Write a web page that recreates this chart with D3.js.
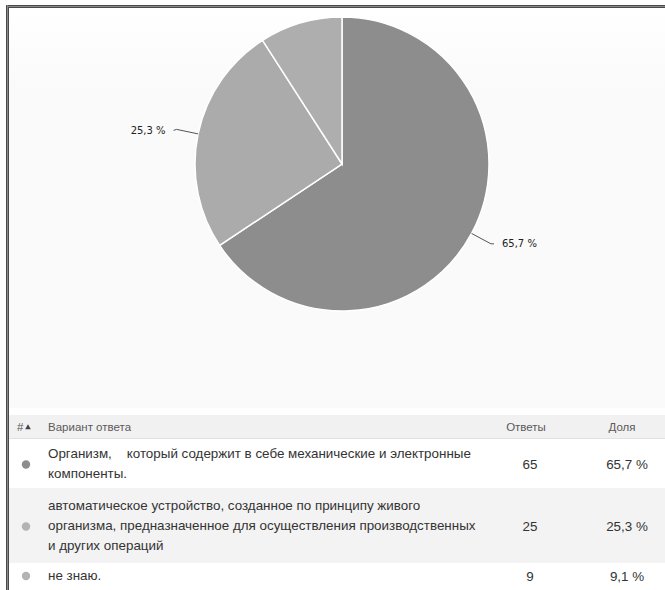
<!DOCTYPE html>
<html><head><meta charset="utf-8">
<script src="https://cdn.jsdelivr.net/npm/d3@7"></script>
<style>
html,body{margin:0;padding:0;background:#fff;}
svg{display:block;}
</style></head>
<body>
<svg id="c" width="665" height="590"></svg>
<script>
// ---- data ----
const categories = [
  ["Организм,\u00a0\u00a0\u00a0\u00a0который содержит в себе механические и электронные", "компоненты."],
  ["автоматическое устройство, созданное по принципу живого", "организма, предназначенное для осуществления производственных", "и других операций"],
  ["не знаю."]
];
const counts = [65, 25, 9];
const shares = [65.7, 25.3, 9.1];
const sliceColors = ["#8d8d8d", "#ababab", "#aeaeae"];
const dotColors = ["#8d8d8d", "#b3b3b3", "#b3b3b3"];
const headers = ["#", "Вариант ответа", "Ответы", "Доля"];

const fmt = v => d3.format(".1f")(v).replace(".", ",") + " %";

const svg = d3.select("#c");

// chart background
const defs = svg.append("defs");
const grad = defs.append("linearGradient").attr("id","bg").attr("x1",0).attr("y1",0).attr("x2",0).attr("y2",1);
grad.append("stop").attr("offset","0").attr("stop-color","#ffffff");
grad.append("stop").attr("offset","0.2").attr("stop-color","#fafafa");
grad.append("stop").attr("offset","1").attr("stop-color","#fafafa");
svg.append("rect").attr("x",9).attr("y",8).attr("width",656).attr("height",400).attr("fill","url(#bg)");

// frame
svg.append("rect").attr("x",6).attr("y",5).attr("width",659).attr("height",1).attr("fill","#4a4a4a");
svg.append("rect").attr("x",6).attr("y",6).attr("width",659).attr("height",1).attr("fill","#8a8a8a");
svg.append("rect").attr("x",6).attr("y",7).attr("width",659).attr("height",1).attr("fill","#4a4a4a");
svg.append("rect").attr("x",6).attr("y",5).attr("width",1).attr("height",585).attr("fill","#4a4a4a");
svg.append("rect").attr("x",7).attr("y",5).attr("width",1).attr("height",585).attr("fill","#8a8a8a");
svg.append("rect").attr("x",8).attr("y",7).attr("width",1).attr("height",583).attr("fill","#4a4a4a");

// pie
const cx = 342, cy = 164, R = 147;
const pie = d3.pie().sort(null).value(d => d)(counts);
const arc = d3.arc().innerRadius(0).outerRadius(R);
const g = svg.append("g").attr("transform", `translate(${cx},${cy})`);
g.selectAll("path").data(pie).join("path")
  .attr("d", arc)
  .attr("fill", (d,i) => sliceColors[i])
  .attr("stroke", "#ffffff")
  .attr("stroke-width", 1.5);

// labels for big slices
pie.forEach((d,i) => {
  if (shares[i] < 10) return;
  const a = (d.startAngle + d.endAngle) / 2;
  const sx = Math.sin(a), sy = -Math.cos(a);
  const p0 = [sx*R, sy*R];
  const p1 = [sx*(R+22), sy*(R+22)];
  const dir = sx >= 0 ? 1 : -1;
  const p2 = [p1[0] + dir*3, p1[1] + (dir>0 ? 0 : 1)];
  g.append("polyline")
    .attr("points", [p0,p1,p2].map(p => p.join(",")).join(" "))
    .attr("fill","none").attr("stroke","#555").attr("stroke-width",1);
  g.append("text")
    .attr("x", p2[0] + dir*8)
    .attr("y", p2[1])
    .attr("dy","0.35em")
    .attr("text-anchor", dir>0 ? "start" : "end")
    .attr("font-family","DejaVu Sans, sans-serif")
    .attr("font-size", 10)
    .attr("fill","#222")
    .text(fmt(shares[i]));
});

// table
const font = "Liberation Sans, Arial, sans-serif";
const colCount = 530, colShare = 627, textX = 48, dotX = 26;
svg.append("rect").attr("x",9).attr("y",415).attr("width",656).attr("height",24).attr("fill","#f1f1f1");
svg.append("rect").attr("x",9).attr("y",438).attr("width",656).attr("height",1).attr("fill","#e2e2e2");
const hy = 427;
const hdr = svg.append("g").attr("font-family", font).attr("font-size", 11.5).attr("fill","#5a5a5a");
hdr.append("text").attr("x",17).attr("y",hy).attr("dy","0.35em").text(headers[0]);
hdr.append("path").attr("d", d3.symbol(d3.symbolTriangle, 14)()).attr("transform",`translate(28,${hy+0.5})`).attr("fill","#444");
hdr.append("text").attr("x",textX).attr("y",hy).attr("dy","0.35em").text(headers[1]);
hdr.append("text").attr("x",colCount-4).attr("y",hy).attr("dy","0.35em").attr("text-anchor","middle").text(headers[2]);
hdr.append("text").attr("x",colShare-5).attr("y",hy).attr("dy","0.35em").attr("text-anchor","middle").text(headers[3]);

const lineH = 20;
const rowTops = [439, 488, 563];
const rowHeights = [49, 75, 27];
const rowBg = ["#ffffff", "#f3f3f3", "#ffffff"];
categories.forEach((lines, i) => {
  const top = rowTops[i], h = rowHeights[i];
  svg.append("rect").attr("x",9).attr("y",top).attr("width",656).attr("height",h).attr("fill",rowBg[i]);
  const mid = i === 2 ? 575 : top + h/2;
  const first = mid - (lines.length - 1) * lineH / 2;
  const tg = svg.append("g").attr("font-family", font).attr("font-size", 13.4).attr("fill","#333");
  lines.forEach((ln, j) => {
    tg.append("text").attr("x", textX).attr("y", first + j*lineH).attr("dy","0.35em").text(ln);
  });
  svg.append("circle").attr("cx", dotX).attr("cy", mid+1).attr("r", 4.2).attr("fill", dotColors[i]);
  tg.append("text").attr("x", colCount).attr("y", mid+1).attr("dy","0.35em").attr("text-anchor","middle").text(counts[i]);
  tg.append("text").attr("x", colShare).attr("y", mid+1).attr("dy","0.35em").attr("text-anchor","middle").text(fmt(shares[i]));
});
</script>
</body></html>
